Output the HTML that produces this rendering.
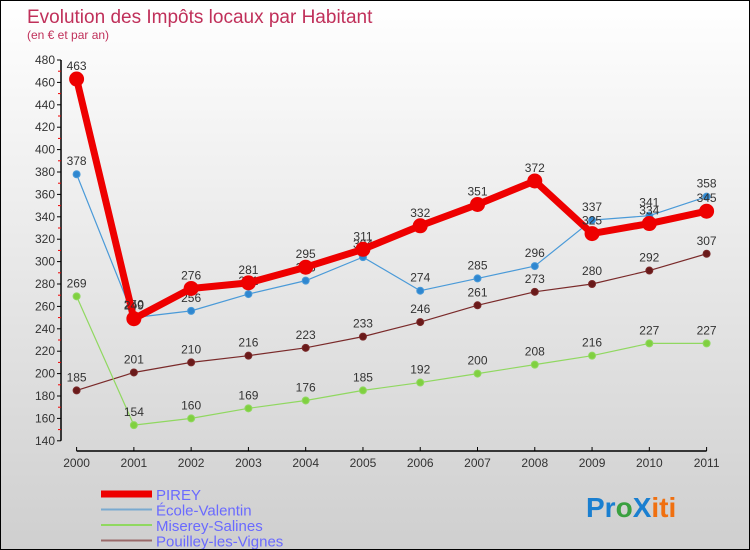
<!DOCTYPE html>
<html><head><meta charset="utf-8"><style>
body{margin:0;}
#c{width:750px;height:550px;position:relative;box-sizing:border-box;border:1px solid #000;background:linear-gradient(#ffffff,#cfcfcf);font-family:"Liberation Sans",sans-serif;overflow:hidden}
svg{position:absolute;left:0;top:0}
</style></head><body>
<div id="c">
<svg id="s" width="750" height="550" xmlns="http://www.w3.org/2000/svg">
<text x="26" y="22" font-size="19" fill="#c0305a">Evolution des Impôts locaux par Habitant</text>
<text x="26" y="38" font-size="12" fill="#c0305a">(en € et par an)</text>
<text x="585" y="516" font-size="28" font-weight="bold"><tspan fill="#1a7fd0">Pr</tspan><tspan fill="#3aa040">o</tspan><tspan fill="#1a7fd0">X</tspan><tspan fill="#f07010">iti</tspan></text>
</svg>
</div>
<script>
const years=["2000","2001","2002","2003","2004","2005","2006","2007","2008","2009","2010","2011"];
const pirey=[463,249,276,281,295,311,332,351,372,325,334,345];
const ecole=[378,250,256,271,283,304,274,285,296,337,341,358];
const miserey=[269,154,160,169,176,185,192,200,208,216,227,227];
const pouilley=[185,201,210,216,223,233,246,261,273,280,292,307];
const yTicks=[140,160,180,200,220,240,260,280,300,320,340,360,380,400,420,440,460,480];
const NS="http://www.w3.org/2000/svg";
const s=document.getElementById('s');
const X=i=>75.6+i*(705.6-75.6)/11;
const Y=v=>59+(480-v)*1.12;
function el(t,a,p){const e=document.createElementNS(NS,t);for(const k in a)e.setAttribute(k,a[k]);(p||s).appendChild(e);return e;}
// y axis
const ya=el('line',{x1:60,y1:Y(480),x2:60,y2:Y(140),stroke:'#000','stroke-width':1.5});


yTicks.forEach(v=>{
  el('line',{x1:56,y1:Y(v),x2:60,y2:Y(v),stroke:'#000'});
  if(v<480){const m=el('line',{x1:57,y1:Y(v+10),x2:60,y2:Y(v+10),stroke:'#e00'});}
  const t=el('text',{x:54,y:Y(v)+4,'font-size':12,fill:'#333','text-anchor':'end'});
  t.textContent=v;
  
  
});
// x axis
const xa=el('line',{x1:X(0),y1:450,x2:X(11),y2:450,stroke:'#000','stroke-width':1.5});


years.forEach((y,i)=>{
  el('line',{x1:X(i),y1:446,x2:X(i),y2:450,stroke:'#000'});
  const t=el('text',{x:X(i),y:466,'font-size':12,fill:'#333','text-anchor':'middle'});
  t.textContent=y;
  
  
});
function series(data,color,dot,lw,r,name){
  const g=el('g',{});
  
  
  el('polyline',{points:data.map((v,i)=>X(i)+','+Y(v)).join(' '),fill:'none',stroke:color,'stroke-width':lw,'stroke-linejoin':'round'},g);
  data.forEach((v,i)=>{
    const c=el('circle',{cx:X(i),cy:Y(v),r:r,fill:dot,stroke:color,'stroke-width':1},g);
    
    
    const t=el('text',{x:X(i),y:Y(v)-9,'font-size':12,fill:'#333','text-anchor':'middle'},g);
    t.textContent=v;
    
    
  });
}
series(pouilley,'#7a2a2a','#6a1a1a',1.2,3.5,'pouilley');
series(miserey,'#90d860','#80d040',1.2,3.5,'miserey');
series(ecole,'#4a9ad8','#2f87d0',1.2,3.5,'ecole');
series(pirey,'#ee0000','#ee0000',7,7,'pirey');
// legend
const leg=[["PIREY","#ee0000",7],["École-Valentin","#7aaad0",2],["Miserey-Salines","#90d860",2],["Pouilley-les-Vignes","#9a6a6a",2]];
leg.forEach((l,i)=>{
  const y=493+i*15.5;
  const g=el('g',{});
  
  
  el('line',{x1:100,y1:y,x2:151,y2:y,stroke:l[1],'stroke-width':l[2]},g);
  const t=el('text',{x:155,y:y+6,'font-size':15,fill:'#6a6aff'},g);
  t.textContent=l[0];
});
</script>
</body></html>
